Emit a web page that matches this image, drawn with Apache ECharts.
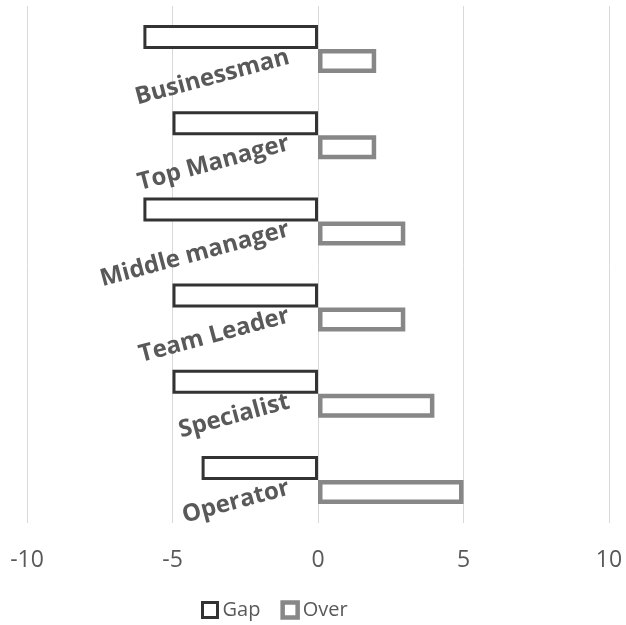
<!DOCTYPE html>
<html>
<head>
<meta charset="utf-8">
<script src="https://cdn.jsdelivr.net/npm/echarts@6/dist/echarts.min.js"></script>
<style>
  html, body { margin: 0; padding: 0; background: #fff; }
  #chart { width: 626px; height: 625px; }
</style>
</head>
<body>
<div id="chart"></div>
<script>
// Roles, listed top to bottom
const roles = ['Businessman', 'Top Manager', 'Middle manager', 'Team Leader', 'Specialist', 'Operator'];
// Shortfall per role (negative side)
const gapValues = [-6, -5, -6, -5, -5, -4];
// Surplus per role (positive side)
const overValues = [2, 2, 3, 3, 4, 5];
// Value axis range and step
const axisMin = -10;
const axisMax = 10;
const axisStep = 5;

const chart = echarts.init(document.getElementById('chart'), null, { renderer: 'canvas' });

const textGray = '#595959';
const fontFamily = '"Open Sans", "Noto Sans", sans-serif';
const gapStyle = { color: '#ffffff', borderColor: '#333333', borderWidth: 3 };
const overStyle = { color: '#ffffff', borderColor: '#878787', borderWidth: 4.5 };

chart.setOption({
  animation: false,
  backgroundColor: '#ffffff',
  grid: { left: 27, right: 17, top: 6, bottom: 102, containLabel: false, outerBoundsMode: 'none' },
  xAxis: {
    type: 'value',
    min: axisMin,
    max: axisMax,
    interval: axisStep,
    axisLine: { show: false },
    axisTick: { show: false },
    splitLine: { show: true, lineStyle: { color: '#d9d9d9', width: 1 } },
    axisLabel: { color: textGray, fontSize: 23, fontFamily: fontFamily, margin: 26 }
  },
  yAxis: {
    type: 'category',
    data: roles,
    inverse: true,
    // the category axis sits on the zero line of the value axis
    offset: -291,
    axisLine: { show: false, onZero: false },
    axisTick: { show: false },
    splitLine: { show: false },
    axisLabel: {
      rotate: 15,
      color: textGray,
      fontSize: 24,
      fontWeight: 'bold',
      fontFamily: fontFamily,
      verticalAlign: 'top',
      lineHeight: 16,
      margin: 31
    }
  },
  legend: {
    bottom: 0,
    left: 196,
    itemWidth: 15,
    itemHeight: 15,
    itemGap: 20,
    icon: 'rect',
    textStyle: { color: textGray, fontSize: 20, fontFamily: fontFamily },
    data: [
      { name: 'Gap', itemStyle: gapStyle },
      { name: 'Over', itemStyle: overStyle }
    ]
  },
  series: [
    {
      name: 'Gap',
      type: 'bar',
      data: gapValues,
      barWidth: 24,
      barGap: '0%',
      itemStyle: gapStyle
    },
    {
      name: 'Over',
      type: 'bar',
      data: overValues,
      barWidth: 24,
      barGap: '0%',
      itemStyle: overStyle
    }
  ]
});
</script>
</body>
</html>
